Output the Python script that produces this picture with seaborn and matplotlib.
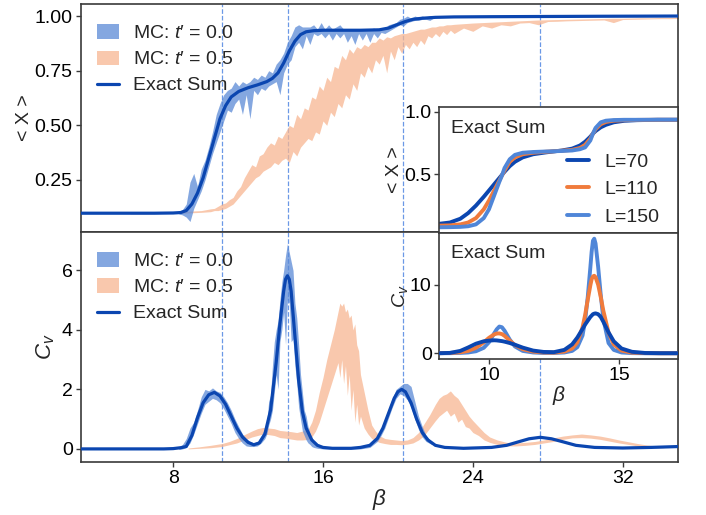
import numpy as np
import matplotlib
matplotlib.use("Agg")
import matplotlib.pyplot as plt
import seaborn as sns

# ---------------- data ----------------
# Exact sum (L=70) <X>
beta_ex = [3.1, 5, 7, 8.0, 8.4, 8.7, 9.0, 9.3, 9.6, 9.9, 10.2, 10.5, 10.8, 11.1, 11.5, 12.0, 12.5,
           13.0, 13.3, 13.6, 13.9, 14.2, 14.5, 14.8, 15.1, 15.5, 16, 17, 18, 19, 19.5, 20.0, 20.4,
           20.8, 21.3, 22, 23, 25, 28, 31, 35]
x_ex = [0.098, 0.098, 0.098, 0.099, 0.101, 0.11, 0.14, 0.19, 0.26, 0.35, 0.44, 0.53, 0.59, 0.63,
        0.655, 0.672, 0.685, 0.70, 0.715, 0.74, 0.785, 0.84, 0.885, 0.915, 0.928, 0.933, 0.935,
        0.935, 0.935, 0.937, 0.945, 0.962, 0.975, 0.985, 0.99, 0.994, 0.996, 0.997, 0.998, 0.999, 1.0]

# Exact sum (L=70) Cv
beta_cv = [3.1, 6, 7.5, 8.0, 8.4, 8.7, 9.0, 9.3, 9.6, 9.9, 10.2, 10.5, 10.8, 11.1, 11.4, 11.7, 12.0,
           12.3, 12.6, 12.9, 13.2, 13.5, 13.7, 13.9, 14.0, 14.1, 14.2, 14.3, 14.5, 14.7, 14.9, 15.1,
           15.4, 15.7, 16.0, 16.5, 17.5, 18.0, 18.5, 18.9, 19.2, 19.5, 19.8, 20.0, 20.2, 20.4, 20.7,
           21.0, 21.3, 21.6, 22.0, 22.5, 23.5, 25, 25.8, 26.5, 27.0, 27.6, 28.2, 28.8, 29.5, 30.5,
           32, 33.5, 35]
cv_ex = [0, 0, 0.0, 0.01, 0.04, 0.08, 0.45, 1.05, 1.55, 1.82, 1.9, 1.78, 1.5, 1.1, 0.7, 0.4, 0.22,
         0.14, 0.2, 0.5, 1.3, 2.9, 4.2, 5.3, 5.7, 5.82, 5.7, 5.3, 3.8, 2.3, 1.25, 0.7, 0.3, 0.12,
         0.05, 0.02, 0.02, 0.05, 0.12, 0.35, 0.7, 1.2, 1.7, 1.92, 2.0, 1.92, 1.55, 1.0, 0.55, 0.3,
         0.12, 0.05, 0.02, 0.05, 0.12, 0.25, 0.34, 0.39, 0.34, 0.24, 0.12, 0.05, 0.03, 0.05, 0.08]

# MC t'=0.0 <X> band
beta_mc0x = [8.3, 8.5, 8.7, 8.9, 9.1, 9.3, 9.5, 9.7, 9.9, 10.1, 10.3, 10.5, 10.7, 10.9, 11.1, 11.3,
             11.5, 11.7, 11.9, 12.1, 12.3, 12.5, 12.7, 12.9, 13.1, 13.3, 13.5, 13.7, 13.9, 14.1,
             14.3, 14.5, 14.7, 14.9, 15.1, 15.3, 15.5, 15.7, 15.9, 16.1, 16.3, 16.5, 16.7, 16.9,
             17.1, 17.3, 17.5, 17.7, 17.9, 18.1, 18.3, 18.5, 18.7, 18.9, 19.1, 19.3, 19.5, 19.7,
             19.9, 20.1, 20.3, 20.5, 20.7, 20.9, 21.1, 21.3, 21.5, 21.7, 21.9]
lo_mc0x = [0.095, 0.09, 0.08, 0.06, 0.12, 0.16, 0.20, 0.25, 0.31, 0.37, 0.42, 0.47, 0.52, 0.57,
           0.56, 0.60, 0.62, 0.55, 0.64, 0.53, 0.66, 0.64, 0.67, 0.66, 0.68, 0.69, 0.70, 0.64,
           0.74, 0.78, 0.80, 0.86, 0.88, 0.85, 0.91, 0.87, 0.92, 0.91, 0.92, 0.90, 0.92, 0.89,
           0.92, 0.90, 0.92, 0.88, 0.91, 0.87, 0.92, 0.89, 0.92, 0.88, 0.92, 0.90, 0.925, 0.92,
           0.93, 0.94, 0.95, 0.96, 0.955, 0.97, 0.975, 0.98, 0.98, 0.985, 0.985, 0.98, 0.99]
hi_mc0x = [0.105, 0.115, 0.14, 0.24, 0.28, 0.22, 0.30, 0.34, 0.40, 0.47, 0.55, 0.60, 0.64, 0.66,
           0.67, 0.70, 0.68, 0.70, 0.69, 0.70, 0.72, 0.71, 0.73, 0.72, 0.75, 0.74, 0.78, 0.80,
           0.83, 0.88, 0.91, 0.95, 0.96, 0.95, 0.95, 0.95, 0.96, 0.94, 0.97, 0.94, 0.96, 0.94,
           0.95, 0.96, 0.94, 0.94, 0.94, 0.94, 0.94, 0.94, 0.94, 0.94, 0.945, 0.94, 0.94, 0.945,
           0.96, 0.965, 0.97, 0.985, 0.99, 1.00, 0.99, 1.0, 0.995, 1.0, 0.995, 1.002, 0.998]

# MC t'=0.5 <X> band
beta_mc5x = [5.7, 6.5, 7.5, 8.5, 9.0, 9.5, 10.0, 10.2, 10.4, 10.6, 10.8, 11.0, 11.2, 11.4, 11.6,
             11.8, 12.0, 12.2, 12.4, 12.6, 12.8, 13.0, 13.2, 13.4, 13.6, 13.8, 14.0, 14.2, 14.4,
             14.6, 14.8, 15.0, 15.2, 15.4, 15.6, 15.8, 16.0, 16.2, 16.4, 16.6, 16.8, 17.0, 17.2,
             17.4, 17.6, 17.8, 18.0, 18.2, 18.4, 18.6, 18.8, 19.0, 19.2, 19.4, 19.6, 19.8, 20.0,
             20.2, 20.4, 20.6, 20.8, 21.0, 21.2, 21.4, 21.6, 21.8, 22.0, 22.2, 22.4, 22.6, 22.8,
             23.0, 23.5, 24.0, 24.5, 25.0, 25.5, 26.0, 26.5, 27.0, 27.5, 28.0, 28.5, 29.0, 29.5,
             30.0, 30.5, 31.0, 31.5, 32.0, 32.5, 33.0, 33.5, 34.0, 34.5, 35.0]
lo_mc5x = [0.095, 0.095, 0.097, 0.098, 0.10, 0.102, 0.105, 0.11, 0.11, 0.115, 0.12, 0.13, 0.14,
           0.16, 0.18, 0.20, 0.22, 0.24, 0.26, 0.27, 0.29, 0.30, 0.31, 0.33, 0.32, 0.34, 0.35,
           0.33, 0.38, 0.36, 0.40, 0.42, 0.44, 0.43, 0.47, 0.46, 0.52, 0.50, 0.56, 0.54, 0.60,
           0.58, 0.64, 0.62, 0.69, 0.66, 0.74, 0.72, 0.77, 0.74, 0.80, 0.78, 0.82, 0.74, 0.84,
           0.80, 0.86, 0.83, 0.87, 0.85, 0.88, 0.86, 0.89, 0.87, 0.91, 0.90, 0.92, 0.905, 0.93,
           0.915, 0.935, 0.92, 0.945, 0.93, 0.955, 0.945, 0.96, 0.955, 0.968, 0.97, 0.96, 0.975,
           0.976, 0.978, 0.979, 0.98, 0.981, 0.982, 0.97, 0.984, 0.985, 0.986, 0.987, 0.988,
           0.988, 0.989]
hi_mc5x = [0.10, 0.102, 0.103, 0.105, 0.108, 0.11, 0.118, 0.12, 0.13, 0.14, 0.145, 0.16, 0.17,
           0.20, 0.22, 0.26, 0.29, 0.32, 0.31, 0.36, 0.37, 0.40, 0.42, 0.41, 0.45, 0.44, 0.47,
           0.50, 0.49, 0.55, 0.53, 0.58, 0.57, 0.63, 0.62, 0.68, 0.66, 0.72, 0.70, 0.77, 0.76,
           0.82, 0.80, 0.85, 0.83, 0.86, 0.85, 0.87, 0.86, 0.88, 0.88, 0.90, 0.89, 0.905, 0.90,
           0.91, 0.915, 0.92, 0.92, 0.925, 0.93, 0.935, 0.94, 0.94, 0.945, 0.95, 0.95, 0.955,
           0.955, 0.96, 0.96, 0.962, 0.965, 0.968, 0.97, 0.972, 0.974, 0.976, 0.978, 0.98, 0.982,
           0.983, 0.984, 0.985, 0.986, 0.987, 0.988, 0.989, 0.99, 0.99, 0.991, 0.992, 0.992,
           0.993, 0.993, 0.994]

# MC t'=0.0 Cv band
beta_mc0c = [8.3, 8.5, 8.7, 8.9, 9.1, 9.3, 9.5, 9.7, 9.9, 10.1, 10.3, 10.5, 10.7, 10.9, 11.1, 11.3,
             11.5, 11.7, 11.9, 12.1, 12.3, 12.5, 12.7, 12.9, 13.0, 13.1, 13.2, 13.3, 13.4, 13.5,
             13.6, 13.7, 13.8, 13.9, 14.0, 14.1, 14.2, 14.3, 14.4, 14.5, 14.6, 14.7, 14.8, 14.9,
             15.0, 15.1, 15.2, 15.3, 15.4, 15.5, 15.7, 16.0, 17.0, 18.0, 18.5, 18.9, 19.1, 19.3,
             19.5, 19.7, 19.9, 20.1, 20.3, 20.5, 20.7, 20.9, 21.1, 21.3, 21.5, 21.8]
lo_mc0c = [-0.02, 0.0, 0.05, 0.2, 0.5, 0.85, 1.2, 1.5, 1.6, 1.7, 1.65, 1.55, 1.35, 1.1, 0.85, 0.55,
           0.35, 0.2, 0.1, 0.08, 0.08, 0.1, 0.2, 0.35, 0.5, 0.8, 1.0, 1.3, 1.9, 2.5, 2.0, 3.6, 4.0,
           4.6, 3.5, 5.0, 4.9, 3.6, 3.7, 2.8, 2.2, 1.4, 1.0, 0.6, 0.45, 0.3, 0.2, 0.15, 0.08, 0.05,
           0.02, 0.0, -0.01, 0.0, 0.05, 0.25, 0.45, 0.7, 1.05, 1.4, 1.7, 1.85, 1.8, 1.65, 1.4, 1.0,
           0.65, 0.4, 0.25, 0.15]
hi_mc0c = [0.05, 0.15, 0.35, 0.7, 0.9, 1.3, 1.75, 2.0, 1.95, 2.05, 1.95, 1.9, 1.75, 1.55, 1.3,
           1.0, 0.75, 0.5, 0.35, 0.25, 0.2, 0.25, 0.45, 0.7, 0.9, 1.6, 1.8, 2.8, 3.6, 4.0, 4.3,
           5.0, 5.6, 6.0, 6.5, 6.9, 6.6, 6.3, 6.0, 4.9, 4.4, 3.5, 2.5, 1.9, 1.3, 1.1, 0.75, 0.55,
           0.4, 0.3, 0.18, 0.08, 0.04, 0.06, 0.15, 0.45, 0.7, 1.0, 1.35, 1.7, 2.0, 2.1, 2.2, 2.2,
           2.1, 1.6, 1.1, 0.75, 0.45, 0.25]

# MC t'=0.5 Cv band
beta_mc5c = [8.8, 9.4, 10.0, 10.6, 11.0, 11.4, 11.8, 12.2, 12.5, 12.8, 13.1, 13.4, 13.7, 14.0,
             14.3, 14.6, 14.9, 15.2, 15.4, 15.6, 15.8, 16.0, 16.2, 16.4, 16.6, 16.8, 16.9, 17.0,
             17.1, 17.2, 17.3, 17.4, 17.5, 17.6, 17.7, 17.8, 17.9, 18.0, 18.2, 18.4, 18.6, 18.8,
             19.0, 19.3, 19.6, 19.9, 20.2, 20.5, 20.8, 21.1, 21.4, 21.7, 22.0, 22.2, 22.4, 22.6,
             22.8, 23.0, 23.2, 23.4, 23.6, 23.8, 24.0, 24.3, 24.6, 24.9, 25.3, 25.8, 26.3, 26.8,
             27.3, 27.8, 28.3, 28.8, 29.3, 29.8, 30.3, 30.8, 31.3, 31.8, 32.3, 32.8, 33.3, 33.8,
             34.2]
lo_mc5c = [0.0, 0.02, 0.04, 0.08, 0.14, 0.2, 0.3, 0.4, 0.45, 0.5, 0.48, 0.45, 0.38, 0.36, 0.33,
           0.3, 0.3, 0.32, 0.4, 0.6, 0.9, 1.3, 1.7, 2.1, 2.5, 2.9, 2.4, 3.0, 2.2, 2.8, 1.8, 2.5,
           1.3, 2.0, 0.9, 1.5, 0.8, 1.1, 0.7, 0.5, 0.35, 0.28, 0.22, 0.18, 0.15, 0.15, 0.14, 0.16,
           0.2, 0.3, 0.45, 0.7, 0.95, 1.1, 1.2, 1.3, 1.1, 1.2, 0.9, 1.0, 0.75, 0.7, 0.55, 0.45,
           0.3, 0.22, 0.15, 0.1, 0.1, 0.12, 0.15, 0.2, 0.25, 0.32, 0.37, 0.38, 0.36, 0.32, 0.26,
           0.2, 0.15, 0.1, 0.06, 0.04, 0.04]
hi_mc5c = [0.03, 0.07, 0.12, 0.18, 0.25, 0.35, 0.48, 0.6, 0.68, 0.72, 0.7, 0.68, 0.62, 0.6, 0.58,
           0.55, 0.6, 0.65, 0.9, 1.3, 1.9, 2.4, 3.0, 3.5, 4.0, 4.6, 4.9, 4.8, 4.9, 4.6, 4.7, 4.4,
           4.5, 4.0, 4.2, 3.5, 3.3, 2.5, 1.9, 1.3, 0.8, 0.6, 0.45, 0.35, 0.32, 0.3, 0.28, 0.3,
           0.38, 0.55, 0.85, 1.15, 1.5, 1.7, 1.8, 1.85, 1.95, 1.8, 1.7, 1.5, 1.3, 1.1, 0.95, 0.75,
           0.55, 0.4, 0.3, 0.22, 0.2, 0.22, 0.25, 0.3, 0.37, 0.43, 0.47, 0.5, 0.47, 0.43, 0.37,
           0.3, 0.24, 0.18, 0.13, 0.1, 0.08]

# vertical guide lines
beta_c = [10.6, 14.13, 20.27, 27.57]

# Inset: exact sum for several L
beta_in = [8.1, 8.5, 8.9, 9.2, 9.5, 9.8, 10.0, 10.2, 10.4, 10.5, 10.6, 10.8, 11.0, 11.3, 11.7,
           12.2, 12.8, 13.2, 13.5, 13.7, 13.9, 14.0, 14.1, 14.3, 14.5, 14.8, 15.2, 15.7, 16.5, 17.3]
x_L70 = [0.105, 0.115, 0.145, 0.19, 0.25, 0.32, 0.37, 0.42, 0.47, 0.495, 0.52, 0.565, 0.6, 0.635,
         0.66, 0.675, 0.69, 0.705, 0.73, 0.76, 0.80, 0.825, 0.845, 0.875, 0.895, 0.915, 0.927,
         0.932, 0.935, 0.935]
x_L110 = [0.09, 0.092, 0.1, 0.115, 0.15, 0.22, 0.29, 0.37, 0.45, 0.49, 0.53, 0.6, 0.635, 0.66,
          0.672, 0.68, 0.688, 0.695, 0.71, 0.735, 0.785, 0.825, 0.86, 0.9, 0.918, 0.928, 0.932,
          0.934, 0.935, 0.935]
x_L150 = [0.077, 0.078, 0.08, 0.085, 0.1, 0.15, 0.22, 0.33, 0.44, 0.49, 0.55, 0.62, 0.655, 0.672,
          0.678, 0.682, 0.686, 0.69, 0.70, 0.715, 0.77, 0.825, 0.87, 0.915, 0.928, 0.933, 0.935,
          0.935, 0.936, 0.936]

beta_inc = [8.1, 8.5, 8.9, 9.2, 9.5, 9.8, 10.0, 10.2, 10.3, 10.4, 10.5, 10.6, 10.8, 11.0, 11.3,
            11.7, 12.1, 12.5, 12.9, 13.2, 13.4, 13.6, 13.7, 13.8, 13.9, 13.95, 14.0, 14.05, 14.1,
            14.2, 14.3, 14.4, 14.6, 14.8, 15.1, 15.5, 16.0, 16.6, 17.3]
cv_L70 = [0.02, 0.06, 0.35, 0.85, 1.4, 1.75, 1.85, 1.9, 1.88, 1.83, 1.78, 1.7, 1.5, 1.25, 0.83,
          0.4, 0.2, 0.17, 0.5, 1.3, 2.3, 3.55, 4.2, 4.75, 5.3, 5.5, 5.7, 5.78, 5.82, 5.7, 5.3, 4.6,
          3.05, 1.75, 0.7, 0.22, 0.05, 0.02, 0.02]
cv_L110 = [0.02, 0.05, 0.15, 0.35, 0.8, 1.6, 2.25, 2.75, 2.88, 2.9, 2.8, 2.55, 1.85, 1.2, 0.6,
           0.25, 0.12, 0.1, 0.25, 0.7, 1.6, 3.8, 5.6, 7.8, 9.9, 10.8, 11.2, 11.3, 11.1, 10.0, 8.2,
           6.2, 3.0, 1.3, 0.4, 0.1, 0.03, 0.01, 0.01]
cv_L150 = [0.01, 0.02, 0.06, 0.12, 0.3, 0.8, 1.6, 2.9, 3.5, 3.9, 3.8, 3.3, 2.0, 1.0, 0.35, 0.12,
           0.05, 0.05, 0.12, 0.35, 0.9, 2.6, 4.8, 8.2, 12.5, 14.8, 16.4, 16.7, 16.0, 12.6, 8.5, 5.0,
           1.5, 0.5, 0.12, 0.03, 0.01, 0.0, 0.0]

# ---------------- style ----------------
sns.set_theme(style="ticks")
plt.rcParams['font.family'] = ['Liberation Sans', 'DejaVu Sans']
plt.rcParams['mathtext.fontset'] = 'custom'
plt.rcParams['mathtext.rm'] = 'Liberation Sans'
plt.rcParams['mathtext.it'] = 'Liberation Sans:italic'
plt.rcParams['mathtext.bf'] = 'Liberation Sans:bold'
plt.rcParams['axes.edgecolor'] = '#3a3a3a'
plt.rcParams['axes.linewidth'] = 1.2
for a in ('xtick', 'ytick'):
    plt.rcParams[a + '.color'] = '#3a3a3a'
    plt.rcParams[a + '.labelcolor'] = 'black'
    plt.rcParams[a + '.major.size'] = 3.5
    plt.rcParams[a + '.major.width'] = 1.0
    plt.rcParams[a + '.major.pad'] = 2.5

C_EX = '#0b46b0'
C_MC0 = '#5b8ad6'
C_MC5 = '#f7b692'
C_L110 = '#f07b3c'
C_L150 = '#4f86d8'
C_DASH = '#6b98e6'

fig = plt.figure(figsize=(7.06, 5.15), dpi=100)
ax1 = fig.add_axes([0.1147, 0.5495, 0.8456, 0.4427])
ax2 = fig.add_axes([0.1147, 0.1035, 0.8456, 0.4460], sharex=ax1)

TS = 14
FS = 14
lab0 = "MC: $t$\u2032 = 0.0"
lab5 = "MC: $t$\u2032 = 0.5"
# --- top main ---
ax1.fill_between(beta_mc0x, lo_mc0x, hi_mc0x, color=C_MC0, alpha=0.75, lw=0,
                 label=lab0, zorder=3)
ax1.fill_between(beta_mc5x, lo_mc5x, hi_mc5x, color=C_MC5, alpha=0.75, lw=0,
                 label=lab5, zorder=2)
sns.lineplot(x=beta_ex, y=x_ex, ax=ax1, color=C_EX, lw=2.3, label="Exact Sum", zorder=4)
for b in beta_c:
    ax1.axvline(b, ls='--', lw=0.9, color=C_DASH, zorder=1)
ax1.set_ylim(0.012, 1.055)
ax1.set_yticks([0.25, 0.5, 0.75, 1.0])
ax1.set_ylabel("< X >", fontsize=14, labelpad=1)
ax1.tick_params(axis='x', which='both', bottom=False, labelbottom=False)
ax1.tick_params(axis='y', labelsize=TS)

# --- bottom main ---
ax2.fill_between(beta_mc0c, lo_mc0c, hi_mc0c, color=C_MC0, alpha=0.75, lw=0,
                 label=lab0, zorder=3)
ax2.fill_between(beta_mc5c, lo_mc5c, hi_mc5c, color=C_MC5, alpha=0.75, lw=0,
                 label=lab5, zorder=2)
sns.lineplot(x=beta_cv, y=cv_ex, ax=ax2, color=C_EX, lw=2.3, label="Exact Sum", zorder=4)
for b in beta_c:
    ax2.axvline(b, ls='--', lw=0.9, color=C_DASH, zorder=1)
ax2.set_xlim(3.08, 34.95)
ax2.set_ylim(-0.43, 7.29)
ax2.set_xticks([8, 16, 24, 32])
ax2.set_yticks([0, 2, 4, 6])
ax2.set_xlabel(r"$\beta$", fontsize=16, labelpad=0)
ax2.set_ylabel(r"$C_v$", fontsize=16, labelpad=3)
ax2.tick_params(labelsize=TS)

for ax in (ax1, ax2):
    ax.legend(loc='upper left', bbox_to_anchor=(-0.007, 1.0), frameon=False, fontsize=FS,
              handlelength=1.13, handleheight=0.75, handletextpad=0.72, labelspacing=0.42,
              borderaxespad=0.75, borderpad=0.3)

# --- insets ---
ia = fig.add_axes([0.6222, 0.5485, 0.3381, 0.2432])
ib = fig.add_axes([0.6222, 0.3029, 0.3381, 0.2456], sharex=ia)
for ax in (ia, ib):
    ax.set_facecolor('white')
    ax.set_zorder(5)

sns.lineplot(x=beta_in, y=x_L70, ax=ia, color=C_EX, lw=2.8, label="L=70")
sns.lineplot(x=beta_in, y=x_L110, ax=ia, color=C_L110, lw=2.8, label="L=110")
sns.lineplot(x=beta_in, y=x_L150, ax=ia, color=C_L150, lw=2.8, label="L=150")
ia.set_ylim(0.035, 1.035)
ia.set_yticks([0.5, 1.0])
ia.set_ylabel("< X >", fontsize=14, labelpad=1)
ia.tick_params(axis='x', bottom=False, labelbottom=False)
ia.tick_params(axis='y', labelsize=TS, pad=2)
ia.text(0.05, 0.9, "Exact Sum", transform=ia.transAxes, fontsize=FS, va='top', ha='left')
ia.legend(loc='lower right', bbox_to_anchor=(0.953, -0.01), frameon=False, fontsize=FS,
          handlelength=1.13, handletextpad=0.75, labelspacing=0.52, borderaxespad=0.0)

sns.lineplot(x=beta_inc, y=cv_L70, ax=ib, color=C_EX, lw=2.8, zorder=4)
sns.lineplot(x=beta_inc, y=cv_L110, ax=ib, color=C_L110, lw=2.8, zorder=3)
sns.lineplot(x=beta_inc, y=cv_L150, ax=ib, color=C_L150, lw=2.8, zorder=2)
ib.set_xlim(8.09, 17.27)
ib.set_ylim(-0.83, 17.6)
ib.set_xticks([10, 15])
ib.set_yticks([0, 10])
ib.set_xlabel(r"$\beta$", fontsize=15, labelpad=0)
ib.set_ylabel(r"$C_v$", fontsize=14, labelpad=0)
ib.tick_params(labelsize=TS, pad=2)
ib.text(0.05, 0.9, "Exact Sum", transform=ib.transAxes, fontsize=FS, va='top', ha='left')

fig.savefig("out.png", dpi=100)
